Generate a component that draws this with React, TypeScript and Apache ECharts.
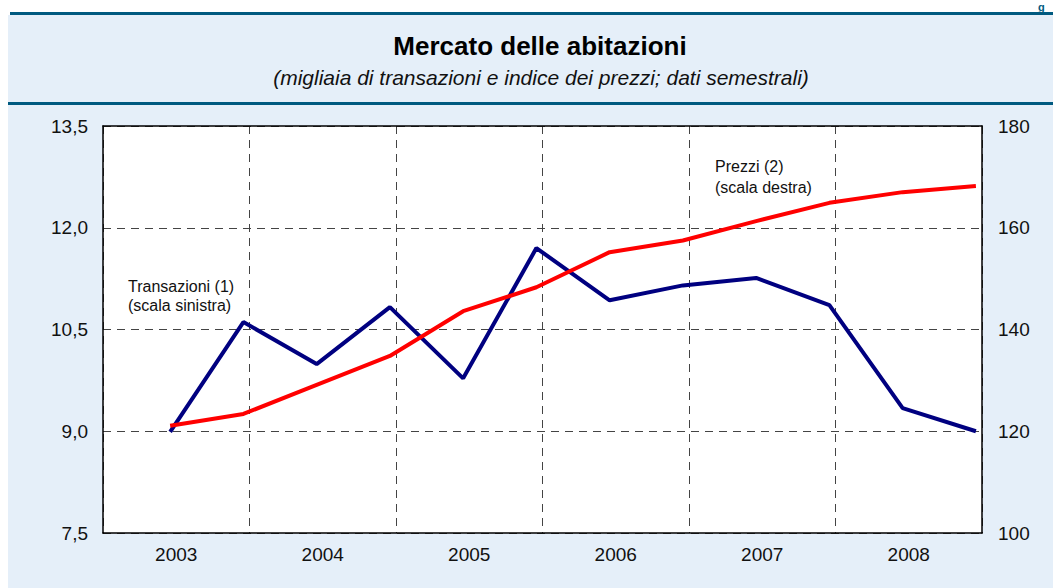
import React, { useEffect, useRef } from "react";
import * as echarts from "echarts";

// ---- data ----
const years = ["2003", "2004", "2005", "2006", "2007", "2008"];
const semesters = [
  "2003 I", "2003 II", "2004 I", "2004 II", "2005 I", "2005 II",
  "2006 I", "2006 II", "2007 I", "2007 II", "2008 I", "2008 II",
];
// Transazioni (migliaia) - scala sinistra
const transazioni = [8.99, 10.61, 9.99, 10.83, 9.78, 11.7, 10.93, 11.15, 11.26, 10.86, 9.34, 9.0];
// Indice dei prezzi - scala destra
const prezzi = [121.1, 123.4, 129.1, 134.8, 143.6, 148.3, 155.2, 157.5, 161.3, 164.9, 167.0, 168.2];

const leftAxisRange = { min: 7.5, max: 13.5, interval: 1.5 };
const rightAxisRange = { min: 100, max: 180, interval: 20 };

const FONT = 'Arial, "Liberation Sans", sans-serif';
const TEAL = "#005a80";
const BG = "#e5eff9";

// month offset (from Jan 2003) of each semester observation: Jun / Dec
const monthOf = (i: number) => i * 6 + 5.5;

export default function App() {
  const ref = useRef<HTMLDivElement>(null);

  useEffect(() => {
    document.body.style.margin = "0";
    if (!ref.current) return;
    const chart = echarts.init(ref.current, null, { renderer: "svg" });

    const blueData = semesters.map((_, i) => [monthOf(i), transazioni[i]]);
    const redData = semesters.map((_, i) => [monthOf(i), prezzi[i]]);

    const dashed = { type: [8, 6] as any, color: "#444", width: 1 };

    chart.setOption({
      animation: false,
      backgroundColor: "transparent",
      textStyle: { fontFamily: FONT },
      grid: {
        left: 103,
        right: 71,
        top: 126,
        bottom: 55,
        show: true,
        backgroundColor: "#ffffff",
        borderWidth: 0,
        containLabel: false,
        outerBoundsMode: "none",
      },
      xAxis: [
        {
          type: "value",
          min: 0,
          max: 72,
          interval: 6,
          position: "bottom",
          axisLine: { show: true, onZero: false, lineStyle: { color: "#000", width: 1.5 } },
          axisTick: { show: false },
          splitLine: { show: false },
          axisLabel: {
            show: true,
            fontFamily: FONT,
            fontSize: 19,
            color: "#111",
            margin: 12,
            showMinLabel: true,
            showMaxLabel: true,
            formatter: (v: number) => (v % 12 === 6 ? years[(v - 6) / 12] : ""),
          },
        },
        {
          type: "value",
          min: 0,
          max: 72,
          interval: 12,
          position: "top",
          axisLine: { show: true, onZero: false, lineStyle: { color: "#000", width: 1.5 } },
          axisTick: { show: false },
          axisLabel: { show: false },
          splitLine: { show: true, lineStyle: dashed },
        },
      ],
      yAxis: [
        {
          type: "value",
          position: "left",
          ...leftAxisRange,
          axisLine: { show: true, onZero: false, lineStyle: { color: "#000", width: 1.5 } },
          axisTick: { show: false },
          splitLine: { show: true, lineStyle: dashed },
          axisLabel: {
            fontFamily: FONT,
            fontSize: 19,
            color: "#111",
            margin: 15,
            formatter: (v: number) => v.toFixed(1).replace(".", ","),
          },
        },
        {
          type: "value",
          position: "right",
          ...rightAxisRange,
          axisLine: { show: true, onZero: false, lineStyle: { color: "#000", width: 1.5 } },
          axisTick: { show: false },
          splitLine: { show: false },
          axisLabel: {
            fontFamily: FONT,
            fontSize: 19,
            color: "#111",
            margin: 16,
          },
        },
      ],
      series: [
        {
          name: "Transazioni",
          type: "line",
          xAxisIndex: 0,
          yAxisIndex: 0,
          data: blueData,
          showSymbol: false,
          lineStyle: { color: "#000080", width: 4 },
          itemStyle: { color: "#000080" },
          z: 3,
        },
        {
          name: "Prezzi",
          type: "line",
          xAxisIndex: 0,
          yAxisIndex: 1,
          data: redData,
          showSymbol: false,
          lineStyle: { color: "#ff0000", width: 4 },
          itemStyle: { color: "#ff0000" },
          z: 4,
        },
      ],
      graphic: [
        {
          type: "text",
          x: 540,
          y: 46,
          style: {
            text: "Mercato delle abitazioni",
            fontFamily: FONT,
            fontSize: 26,
            fontWeight: "bold",
            fill: "#000",
            align: "center",
            verticalAlign: "middle",
          },
        },
        {
          type: "text",
          x: 541,
          y: 77,
          style: {
            text: "(migliaia di transazioni e indice dei prezzi; dati semestrali)",
            fontFamily: FONT,
            fontSize: 21,
            fontStyle: "italic",
            fill: "#111",
            align: "center",
            verticalAlign: "middle",
          },
        },
        {
          type: "text",
          x: 128,
          y: 286,
          z: 10,
          style: { text: "Transazioni (1)", fontFamily: FONT, fontSize: 16, fill: "#111", verticalAlign: "middle" },
        },
        {
          type: "text",
          x: 128,
          y: 305,
          z: 10,
          style: { text: "(scala sinistra)", fontFamily: FONT, fontSize: 16, fill: "#111", verticalAlign: "middle" },
        },
        {
          type: "text",
          x: 715,
          y: 166,
          z: 10,
          style: { text: "Prezzi (2)", fontFamily: FONT, fontSize: 16, fill: "#111", verticalAlign: "middle" },
        },
        {
          type: "text",
          x: 715,
          y: 187,
          z: 10,
          style: { text: "(scala destra)", fontFamily: FONT, fontSize: 16, fill: "#111", verticalAlign: "middle" },
        },
        {
          type: "text",
          x: 1038,
          y: 1,
          style: {
            text: "g",
            fontFamily: FONT,
            fontSize: 11,
            lineHeight: 11,
            fontWeight: "bold",
            fill: TEAL,
            verticalAlign: "top",
          },
        },
      ],
    });

    return () => chart.dispose();
  }, []);

  return (
    <div style={{ position: "relative", width: 1053, height: 588, background: "#fff", overflow: "hidden" }}>
      <div style={{ position: "absolute", left: 8, top: 15, width: 1045, height: 573, background: BG }} />
      <div style={{ position: "absolute", left: 10, top: 12, width: 1043, height: 3, background: TEAL }} />
      <div style={{ position: "absolute", left: 8, top: 102, width: 1045, height: 2.5, background: TEAL }} />
      <div ref={ref} style={{ position: "absolute", left: 0, top: 0, width: 1053, height: 588 }} />
    </div>
  );
}
